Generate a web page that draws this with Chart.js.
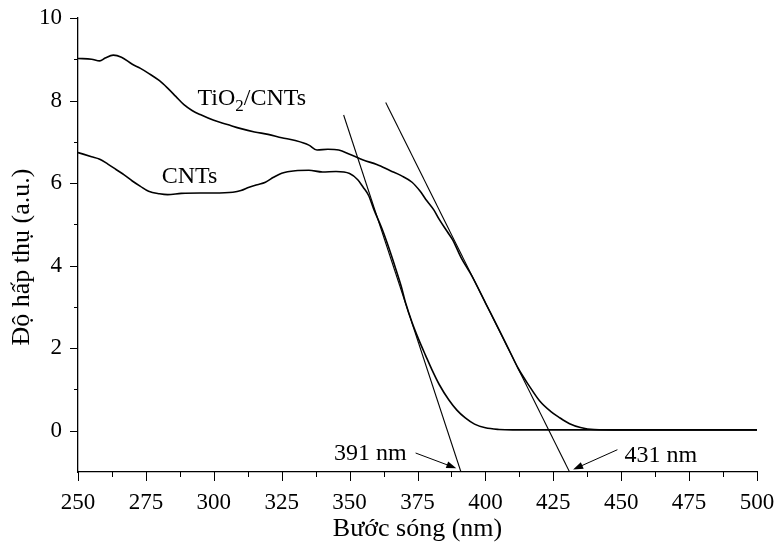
<!DOCTYPE html>
<html>
<head>
<meta charset="utf-8">
<script src="https://cdn.jsdelivr.net/npm/chart.js@4.4.0/dist/chart.umd.min.js"></script>
<style>
  body { margin: 0; background: #fff; }
  #wrap { width: 777px; height: 545px; }
</style>
</head>
<body>
<div id="wrap"><canvas id="absChart" width="777" height="545"></canvas></div>
<script>
// Phổ hấp thụ (bước sóng nm / độ hấp thụ a.u.)
const tioWave = [250, 255, 258, 260, 263, 266, 270, 273, 276, 280, 283, 286, 289, 292, 295, 300, 305, 310, 315, 320,
  325, 330, 335, 338, 342, 346, 350, 355, 360, 365, 369, 373, 376, 378, 381, 383, 386, 388, 391, 395,
  400, 405, 409, 412, 416, 420, 424, 427, 431, 435, 440, 450, 475, 500];
const tioAbs = [9.02, 9.0, 8.96, 9.03, 9.1, 9.05, 8.88, 8.78, 8.66, 8.48, 8.3, 8.1, 7.9, 7.76, 7.66, 7.52, 7.42, 7.32, 7.24, 7.18,
  7.1, 7.03, 6.92, 6.8, 6.82, 6.8, 6.7, 6.56, 6.45, 6.3, 6.18, 6.02, 5.8, 5.61, 5.35, 5.12, 4.82, 4.62, 4.2, 3.75,
  3.1, 2.45, 1.92, 1.52, 1.1, 0.72, 0.47, 0.33, 0.17, 0.08, 0.03, 0.02, 0.02, 0.02];

const cntWave = [250, 255, 258, 261, 264, 267, 270, 273, 276, 280, 283, 288, 295, 300, 307, 310, 313, 316, 319, 322,
  325, 330, 335, 340, 345, 350, 353, 355, 357, 359, 362, 364.5, 367, 369, 370.6, 373, 375.5, 378, 380.3, 383,
  386.5, 389.5, 392.6, 396, 400, 405, 410, 450, 500];
const cntAbs = [6.74, 6.64, 6.58, 6.46, 6.33, 6.2, 6.05, 5.92, 5.8, 5.74, 5.72, 5.75, 5.76, 5.76, 5.78, 5.82, 5.9, 5.96, 6.02, 6.14,
  6.24, 6.3, 6.31, 6.27, 6.28, 6.23, 6.08, 5.9, 5.7, 5.35, 4.88, 4.42, 3.92, 3.5, 3.1, 2.62, 2.2, 1.82, 1.48, 1.12,
  0.75, 0.5, 0.31, 0.16, 0.07, 0.03, 0.02, 0.02, 0.02];

// Đường tiếp tuyến (điểm đầu, điểm cuối)
const tangentTioX = [363.3, 431];
const tangentTioY = [7.95, -1];
const tangentCntX = [347.8, 391];
const tangentCntY = [7.65, -1];

// Nhãn trục
const xTickValues = [250, 275, 300, 325, 350, 375, 400, 425, 450, 475, 500];
const yTickValues = [0, 2, 4, 6, 8, 10];
const yTitle = 'Độ hấp thụ (a.u.)';

const serif = "'Liberation Serif', 'Times New Roman', serif";

// Chú thích trên hình (tọa độ theo dữ liệu)
const curveNotes = [
  { parts: [{ t: 'TiO' }, { t: '2', sub: true }, { t: '/CNTs' }], x: 294, y: 7.9 },
  { parts: [{ t: 'CNTs' }], x: 280.8, y: 6.0 },
  { parts: [{ t: '391 nm' }], x: 344.3, y: -0.72 },
  { parts: [{ t: '431 nm' }], x: 451.2, y: -0.75 }
];
const arrowNotes = [
  { from: [374.3, -0.54], to: [389.3, -0.91] },
  { from: [448.6, -0.46], to: [432.3, -0.94] }
];

function toPoints(xs, ys) {
  return xs.map((x, i) => ({ x: x, y: ys[i] }));
}

// vẽ vạch chia chính / phụ, tiêu đề trục y và chú thích
const annotatePlugin = {
  id: 'annotate',
  afterDatasetsDraw(chart) {
    const ctx = chart.ctx;
    const xs = chart.scales.x;
    const ys = chart.scales.y;
    ctx.save();
    ctx.fillStyle = '#000';
    ctx.strokeStyle = '#000';
    ctx.textBaseline = 'alphabetic';
    ctx.textAlign = 'left';

    curveNotes.forEach(note => {
      let px = xs.getPixelForValue(note.x);
      const py = ys.getPixelForValue(note.y);
      note.parts.forEach(p => {
        ctx.font = (p.sub ? '17px ' : '24px ') + serif;
        ctx.fillText(p.t, px, p.sub ? py + 6 : py);
        px += ctx.measureText(p.t).width;
      });
    });

    ctx.lineWidth = 1;
    arrowNotes.forEach(a => {
      const x1 = xs.getPixelForValue(a.from[0]), y1 = ys.getPixelForValue(a.from[1]);
      const x2 = xs.getPixelForValue(a.to[0]), y2 = ys.getPixelForValue(a.to[1]);
      const ang = Math.atan2(y2 - y1, x2 - x1);
      ctx.beginPath();
      ctx.moveTo(x1, y1);
      ctx.lineTo(x2 - 6 * Math.cos(ang), y2 - 6 * Math.sin(ang));
      ctx.stroke();
      ctx.beginPath();
      ctx.moveTo(x2, y2);
      ctx.lineTo(x2 - 10 * Math.cos(ang) + 3.5 * Math.sin(ang), y2 - 10 * Math.sin(ang) - 3.5 * Math.cos(ang));
      ctx.lineTo(x2 - 10 * Math.cos(ang) - 3.5 * Math.sin(ang), y2 - 10 * Math.sin(ang) + 3.5 * Math.cos(ang));
      ctx.closePath();
      ctx.fill();
    });
    ctx.restore();
  },
  afterDraw(chart) {
    const ctx = chart.ctx;
    const xs = chart.scales.x;
    const ys = chart.scales.y;
    const area = chart.chartArea;
    ctx.save();
    ctx.strokeStyle = '#000';
    ctx.lineWidth = 1;
    ctx.beginPath();
    // trục x
    xs.ticks.forEach((t, i) => {
      const px = Math.round(xs.getPixelForValue(t.value)) + 0.5;
      ctx.moveTo(px, area.bottom);
      ctx.lineTo(px, area.bottom + 9);
      if (i < xs.ticks.length - 1) {
        const mid = (t.value + xs.ticks[i + 1].value) / 2;
        const pm = Math.round(xs.getPixelForValue(mid)) + 0.5;
        ctx.moveTo(pm, area.bottom);
        ctx.lineTo(pm, area.bottom + 5);
      }
    });
    // trục y
    ys.ticks.forEach((t, i) => {
      const py = Math.round(ys.getPixelForValue(t.value)) + 0.5;
      ctx.moveTo(area.left, py);
      ctx.lineTo(area.left - 8, py);
      if (i < ys.ticks.length - 1) {
        const mid = (t.value + ys.ticks[i + 1].value) / 2;
        const pm = Math.round(ys.getPixelForValue(mid)) + 0.5;
        ctx.moveTo(area.left, pm);
        ctx.lineTo(area.left - 4, pm);
      }
    });
    ctx.stroke();

    // tiêu đề trục y (lệch xuống một chút như hình gốc)
    ctx.translate(29, (area.top + area.bottom) / 2 + 12);
    ctx.rotate(-Math.PI / 2);
    ctx.fillStyle = '#000';
    ctx.font = '26px ' + serif;
    ctx.textAlign = 'center';
    ctx.textBaseline = 'alphabetic';
    ctx.fillText(yTitle, 0, 0);
    ctx.restore();
  }
};

function initializeAbsorbanceChart() {
  const ctx = document.getElementById('absChart').getContext('2d');
  new Chart(ctx, {
    type: 'line',
    data: {
      datasets: [
        { label: 'TiO2/CNTs', data: toPoints(tioWave, tioAbs), borderColor: '#000', borderWidth: 1.6,
          pointRadius: 0, cubicInterpolationMode: 'monotone', fill: false },
        { label: 'CNTs', data: toPoints(cntWave, cntAbs), borderColor: '#000', borderWidth: 1.6,
          pointRadius: 0, cubicInterpolationMode: 'monotone', fill: false },
        { label: 'tt1', data: toPoints(tangentTioX, tangentTioY), borderColor: '#000', borderWidth: 1.1,
          pointRadius: 0, tension: 0, fill: false },
        { label: 'tt2', data: toPoints(tangentCntX, tangentCntY), borderColor: '#000', borderWidth: 1.1,
          pointRadius: 0, tension: 0, fill: false }
      ]
    },
    options: {
      responsive: false,
      animation: false,
      layout: { padding: { top: 18, right: 20, left: 0, bottom: 0 } },
      plugins: { legend: { display: false }, tooltip: { enabled: false } },
      scales: {
        x: {
          type: 'linear',
          min: 250,
          max: 500,
          afterBuildTicks: scale => { scale.ticks = xTickValues.map(v => ({ value: v })); },
          afterFit: scale => { scale.height = 73; scale.paddingLeft = 0; scale.paddingRight = 0; },
          grid: { display: false },
          border: { display: true, color: '#000', width: 1.3 },
          ticks: { color: '#000', padding: 9, maxRotation: 0, font: { family: serif, size: 23 } },
          title: { display: true, text: 'Bước sóng (nm)', color: '#000',
                   font: { family: serif, size: 26 }, padding: { top: 0, bottom: 0 } }
        },
        y: {
          type: 'linear',
          min: -1,
          max: 10,
          afterBuildTicks: scale => { scale.ticks = yTickValues.map(v => ({ value: v })); },
          afterFit: scale => { scale.width = 78; scale.paddingTop = 0; scale.paddingBottom = 0; },
          grid: { display: false },
          border: { display: true, color: '#000', width: 1.3 },
          ticks: { color: '#000', padding: 8, font: { family: serif, size: 23 } },
          title: { display: false }
        }
      }
    },
    plugins: [annotatePlugin]
  });
}

document.addEventListener('DOMContentLoaded', () => {
  initializeAbsorbanceChart();
});
</script>
</body>
</html>
